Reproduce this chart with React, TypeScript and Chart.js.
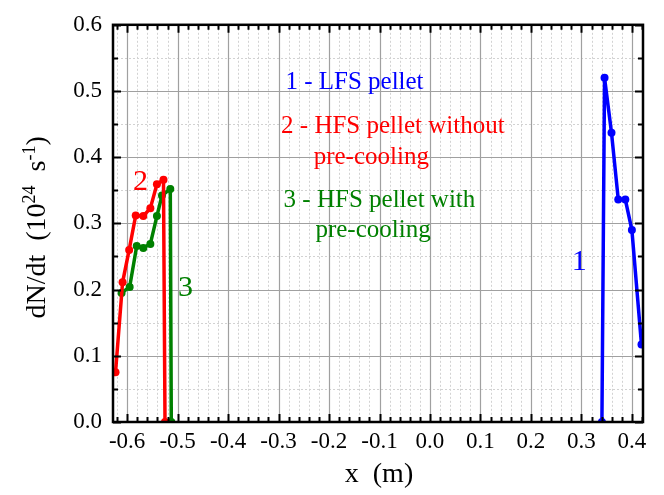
import React, { useEffect, useRef } from "react";
import { Chart, registerables } from "chart.js";

Chart.register(...registerables);

// Pellet ablation rate dN/dt versus major-radius position x
const lfsX = [0.3406, 0.3458, 0.3596, 0.373, 0.387, 0.4, 0.419];
const lfsY = [0.0, 0.52, 0.437, 0.336, 0.336, 0.29, 0.117];

const hfsNoCoolX = [-0.623, -0.609, -0.596, -0.583, -0.568, -0.554, -0.541, -0.528, -0.525];
const hfsNoCoolY = [0.075, 0.211, 0.26, 0.312, 0.311, 0.323, 0.359, 0.366, 0.0];

const hfsCoolX = [-0.611, -0.595, -0.581, -0.568, -0.554, -0.541, -0.531, -0.5145, -0.5125];
const hfsCoolY = [0.195, 0.204, 0.266, 0.263, 0.269, 0.311, 0.342, 0.352, 0.0];

const X_MIN = -0.628;
const X_MAX = 0.422;
const Y_MIN = 0;
const Y_MAX = 0.6;
const X_MAJOR = 0.1;
const X_MINOR = 0.02;
const Y_MAJOR = 0.1;
const Y_MINOR = 0.05;

const BLUE = "#0000ff";
const RED = "#ff0000";
const GREEN = "#008000";
const SERIF = '"Liberation Serif", "Times New Roman", serif';

// Legend-like notes and curve numbers, anchored in data units
const notes = [
  { text: "1 - LFS pellet", x: -0.2865, y: 0.513, color: BLUE, size: 25, align: "left" },
  { text: "2 - HFS pellet without", x: -0.295, y: 0.447, color: RED, size: 25, align: "left" },
  { text: "pre-cooling", x: -0.2305, y: 0.3995, color: RED, size: 25, align: "left" },
  { text: "3 - HFS pellet with", x: -0.29, y: 0.334, color: GREEN, size: 25, align: "left" },
  { text: "pre-cooling", x: -0.227, y: 0.289, color: GREEN, size: 25, align: "left" },
  { text: "2", x: -0.5737, y: 0.363, color: RED, size: 30, align: "center" },
  { text: "3", x: -0.4846, y: 0.2015, color: GREEN, size: 30, align: "center" },
  { text: "1", x: 0.2957, y: 0.242, color: BLUE, size: 30, align: "center" },
];

const fmt = (v: number) => (Math.abs(v) < 1e-9 ? "0.0" : v.toFixed(1));

const pts = (xs: number[], ys: number[]) => xs.map((x, i) => ({ x, y: ys[i] }));

const gridPlugin = {
  id: "paperGrid",
  beforeDatasetsDraw(chart: any) {
    const { ctx, chartArea: a, scales } = chart;
    const xs = scales.x;
    const ys = scales.y;
    ctx.save();
    ctx.beginPath();
    ctx.rect(a.left, a.top, a.right - a.left, a.bottom - a.top);
    ctx.clip();
    const xi0 = Math.ceil(X_MIN / X_MINOR - 1e-6);
    const xi1 = Math.floor(X_MAX / X_MINOR + 1e-6);
    const yi0 = Math.ceil(Y_MIN / Y_MINOR - 1e-6);
    const yi1 = Math.floor(Y_MAX / Y_MINOR + 1e-6);
    const xRatio = Math.round(X_MAJOR / X_MINOR);
    const yRatio = Math.round(Y_MAJOR / Y_MINOR);

    // dotted minor lines
    ctx.lineWidth = 1;
    ctx.setLineDash([2, 2]);
    ctx.strokeStyle = "#d2d2d2";
    for (let i = xi0; i <= xi1; i++) {
      if (i % xRatio === 0) continue;
      const px = Math.round(xs.getPixelForValue(i * X_MINOR)) + 0.5;
      ctx.beginPath();
      ctx.moveTo(px, a.top);
      ctx.lineTo(px, a.bottom);
      ctx.stroke();
    }
    for (let i = yi0; i <= yi1; i++) {
      if (i % yRatio === 0) continue;
      const py = Math.round(ys.getPixelForValue(i * Y_MINOR)) + 0.5;
      ctx.beginPath();
      ctx.moveTo(a.left, py);
      ctx.lineTo(a.right, py);
      ctx.stroke();
    }

    // solid major lines
    ctx.setLineDash([]);
    ctx.strokeStyle = "#a0a0a0";
    ctx.lineWidth = 1.2;
    for (let i = xi0; i <= xi1; i++) {
      if (i % xRatio !== 0) continue;
      const px = Math.round(xs.getPixelForValue(i * X_MINOR)) + 0.5;
      ctx.beginPath();
      ctx.moveTo(px, a.top);
      ctx.lineTo(px, a.bottom);
      ctx.stroke();
    }
    for (let i = yi0; i <= yi1; i++) {
      if (i % yRatio !== 0) continue;
      const py = Math.round(ys.getPixelForValue(i * Y_MINOR)) + 0.5;
      ctx.beginPath();
      ctx.moveTo(a.left, py);
      ctx.lineTo(a.right, py);
      ctx.stroke();
    }
    ctx.restore();
  },
  afterDatasetsDraw(chart: any) {
    const { ctx, scales } = chart;
    ctx.save();
    ctx.textBaseline = "middle";
    for (const n of notes) {
      ctx.font = `${n.size}px ${SERIF}`;
      ctx.fillStyle = n.color;
      ctx.textAlign = n.align as CanvasTextAlign;
      ctx.fillText(n.text, scales.x.getPixelForValue(n.x), scales.y.getPixelForValue(n.y));
    }
    ctx.restore();
  },
  afterDraw(chart: any) {
    const { ctx, chartArea: a, scales } = chart;
    const xs = scales.x;
    const ys = scales.y;
    ctx.save();
    // frame
    ctx.strokeStyle = "#000";
    ctx.lineWidth = 2.5;
    ctx.strokeRect(a.left, a.top, a.right - a.left, a.bottom - a.top);

    // inward ticks on all four sides
    ctx.lineWidth = 2;
    const xi0 = Math.ceil(X_MIN / X_MINOR - 1e-6);
    const xi1 = Math.floor(X_MAX / X_MINOR + 1e-6);
    const xRatio = Math.round(X_MAJOR / X_MINOR);
    for (let i = xi0; i <= xi1; i++) {
      const len = i % xRatio === 0 ? 8 : 5;
      const px = Math.round(xs.getPixelForValue(i * X_MINOR)) + 0.5;
      ctx.beginPath();
      ctx.moveTo(px, a.bottom);
      ctx.lineTo(px, a.bottom - len);
      ctx.moveTo(px, a.top);
      ctx.lineTo(px, a.top + len);
      ctx.stroke();
    }
    const yi0 = Math.ceil(Y_MIN / Y_MINOR - 1e-6);
    const yi1 = Math.floor(Y_MAX / Y_MINOR + 1e-6);
    const yRatio = Math.round(Y_MAJOR / Y_MINOR);
    for (let i = yi0; i <= yi1; i++) {
      const len = i % yRatio === 0 ? 8 : 5;
      const py = Math.round(ys.getPixelForValue(i * Y_MINOR)) + 0.5;
      ctx.beginPath();
      ctx.moveTo(a.left, py);
      ctx.lineTo(a.left + len, py);
      ctx.moveTo(a.right, py);
      ctx.lineTo(a.right - len, py);
      ctx.stroke();
    }

    // axis titles
    ctx.fillStyle = "#000";
    ctx.textBaseline = "middle";
    ctx.textAlign = "center";
    ctx.font = `28px ${SERIF}`;
    ctx.fillText("x  (m)", (a.left + a.right) / 2 + 1, 475);

    // y title with superscripts, rotated
    const parts = [
      { t: "dN/dt  (10", sup: false },
      { t: "24", sup: true },
      { t: "  s", sup: false },
      { t: "-1", sup: true },
      { t: ")", sup: false },
    ];
    const big = `28px ${SERIF}`;
    const small = `18px ${SERIF}`;
    let total = 0;
    for (const p of parts) {
      ctx.font = p.sup ? small : big;
      total += ctx.measureText(p.t).width;
    }
    ctx.translate(35, (a.top + a.bottom) / 2 + 4);
    ctx.rotate(-Math.PI / 2);
    ctx.textAlign = "left";
    ctx.textBaseline = "alphabetic";
    let cx = -total / 2;
    for (const p of parts) {
      ctx.font = p.sup ? small : big;
      ctx.fillText(p.t, cx, p.sup ? 0 : 10);
      cx += ctx.measureText(p.t).width;
    }
    ctx.restore();
  },
};

export default function App() {
  const ref = useRef<HTMLCanvasElement>(null);

  useEffect(() => {
    if (!ref.current) return;
    const lineStyle = (color: string) => ({
      borderColor: color,
      backgroundColor: color,
      pointBackgroundColor: color,
      pointBorderColor: color,
      borderWidth: 3.5,
      pointRadius: 4,
      pointBorderWidth: 0,
      tension: 0,
      fill: false,
    });
    const chart = new Chart(ref.current, {
      type: "line",
      data: {
        datasets: [
          { label: "1 - LFS pellet", data: pts(lfsX, lfsY), ...lineStyle(BLUE) },
          { label: "2 - HFS pellet without pre-cooling", data: pts(hfsNoCoolX, hfsNoCoolY), ...lineStyle(RED) },
          { label: "3 - HFS pellet with pre-cooling", data: pts(hfsCoolX, hfsCoolY), ...lineStyle(GREEN) },
        ],
      },
      options: {
        animation: false,
        responsive: false,
        layout: { padding: { top: 24, right: 21, left: 0, bottom: 0 } },
        plugins: { legend: { display: false }, tooltip: { enabled: false } },
        scales: {
          x: {
            type: "linear",
            min: X_MIN,
            max: X_MAX,
            grid: { display: false, drawTicks: false },
            border: { display: false },
            ticks: {
              stepSize: X_MAJOR,
              includeBounds: false,
              autoSkip: false,
              maxRotation: 0,
              padding: 6,
              color: "#000",
              font: { family: SERIF, size: 23 },
              callback: (v: any) => fmt(Number(v)),
            },
            afterFit: (s: any) => {
              s.height = 73;
            },
          },
          y: {
            type: "linear",
            min: Y_MIN,
            max: Y_MAX,
            grid: { display: false, drawTicks: false },
            border: { display: false },
            ticks: {
              stepSize: Y_MAJOR,
              padding: 11,
              color: "#000",
              font: { family: SERIF, size: 23 },
              callback: (v: any) => fmt(Number(v)),
            },
            afterFit: (s: any) => {
              s.width = 113;
            },
          },
        },
      },
      plugins: [gridPlugin],
    } as any);
    return () => chart.destroy();
  }, []);

  return (
    <div style={{ position: "absolute", left: 0, top: 0, width: 664, height: 495, background: "#fff" }}>
      <canvas ref={ref} width={664} height={495} style={{ display: "block" }} />
    </div>
  );
}
